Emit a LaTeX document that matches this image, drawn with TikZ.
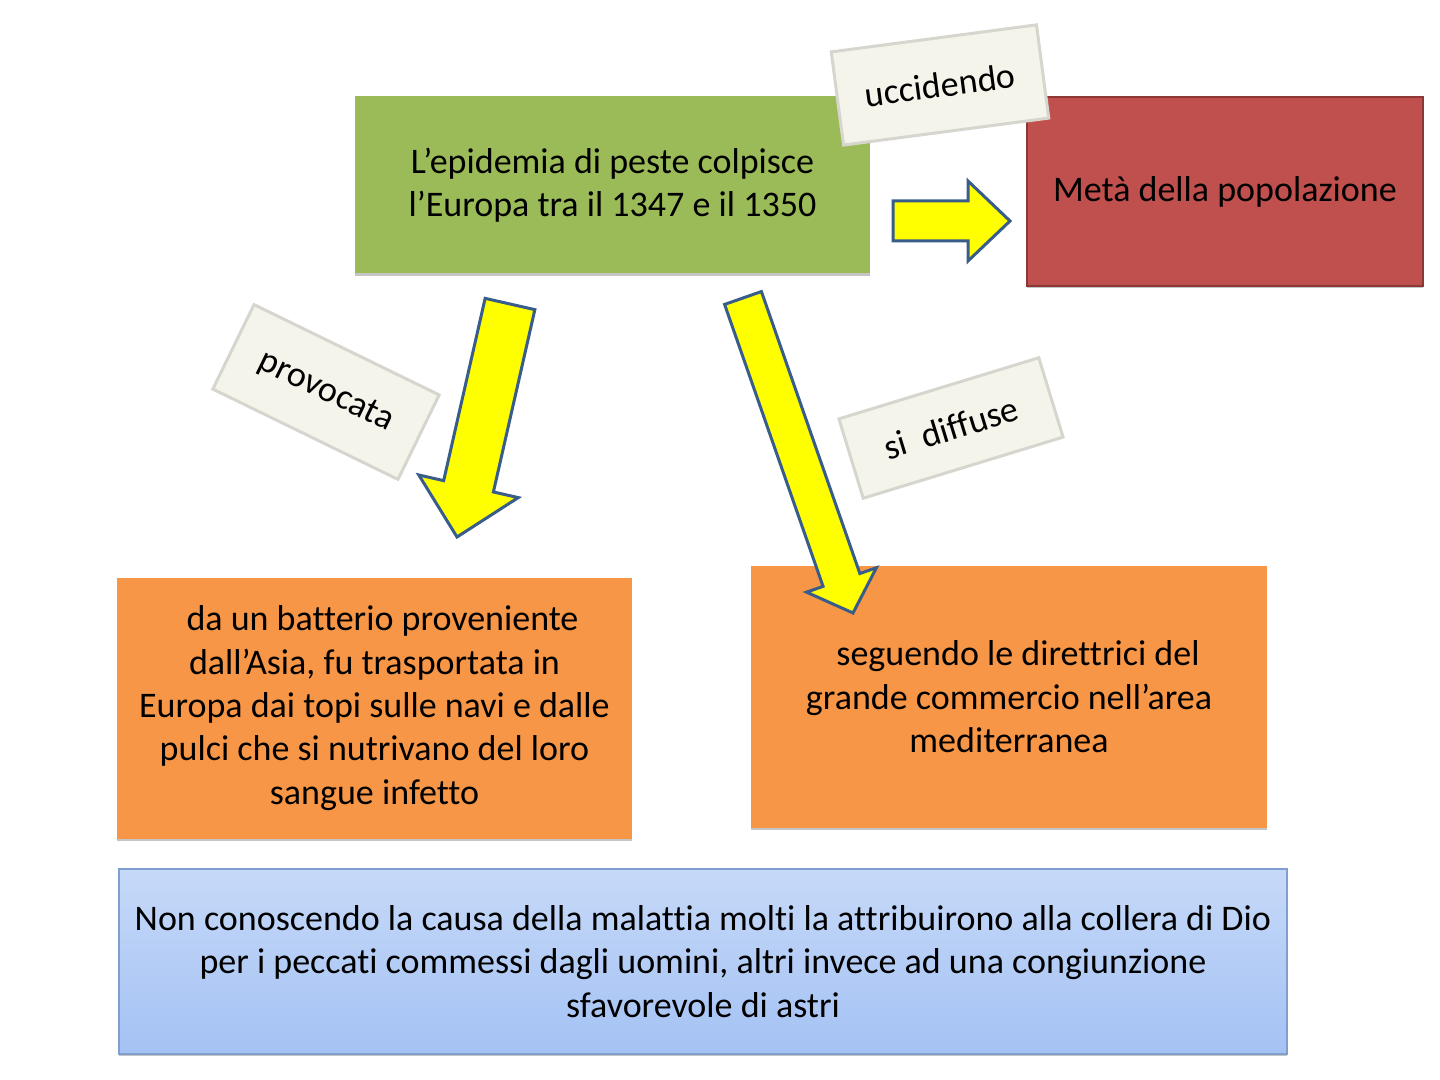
\documentclass[tikz,border=0pt]{standalone}
\usepackage{fontspec}
\setmainfont{Carlito}[Ligatures=NoCommon]
\usetikzlibrary{calc,shadows}
\definecolor{greenbox}{HTML}{9BBB59}
\definecolor{redbox}{HTML}{C0504D}
\definecolor{redline}{HTML}{8C3836}
\definecolor{orangebox}{HTML}{F79646}
\definecolor{bluetop}{RGB}{198,217,248}
\definecolor{bluebot}{RGB}{164,194,244}
\definecolor{blueline}{RGB}{128,158,206}
\definecolor{cream}{HTML}{F5F4EA}
\definecolor{creamline}{HTML}{D6D6CE}
\definecolor{arrowline}{HTML}{385D8A}
\definecolor{arrowfill}{HTML}{FFFF00}
\tikzset{
  box/.style={rectangle, inner sep=0pt, align=center, font=\fontsize{18}{21.7}\selectfont,
    drop shadow={shadow xshift=0pt, shadow yshift=-1.2pt, fill=black!45, opacity=0.5}},
  lbl/.style={rectangle, inner sep=0pt, draw=creamline, line width=1.5pt, fill=cream,
    font=\fontsize{18}{21.7}\selectfont},
  blockarrow/.style={draw=arrowline, fill=arrowfill, line width=1.5pt, line join=miter}
}
\begin{document}
\begin{tikzpicture}[x=0.5pt,y=0.5pt]
\useasboundingbox (0,0) rectangle (1440,-1080);
% boxes
\node[box, fill=greenbox, minimum width=257.5pt, minimum height=88.5pt] (green) at (612.5,-185)
  {L’epidemia di peste colpisce\\l’Europa tra il 1347 e il 1350};
\node[box, fill=redbox, draw=redline, line width=1pt, minimum width=198pt, minimum height=94.5pt] (red) at (1225,-191.5)
  {Metà della popolazione};
\node[box, fill=orangebox, minimum width=257.5pt, minimum height=130.5pt] (left) at (374.5,-708)
  {\hspace*{8pt}da un batterio proveniente\\dall’Asia, fu trasportata in\\Europa dai topi sulle navi e dalle\\pulci che si nutrivano del loro\\sangue infetto};
\node[box, fill=orangebox, minimum width=258pt, minimum height=131pt] (right) at (1009,-697)
  {\hspace*{9pt}seguendo le direttrici del\\grande commercio nell’area\\mediterranea};
\node[box, top color=bluetop, bottom color=bluebot, draw=blueline, line width=1pt,
  minimum width=584pt, minimum height=92.5pt] (blue) at (703,-961.5)
  {Non conoscendo la causa della malattia molti la attribuirono alla collera di Dio\\per i peccati commessi dagli uomini, altri invece ad una congiunzione\\sfavorevole di astri};
% arrows
\coordinate (a1t) at (893,-221);
\coordinate (a1h) at (1010,-221);
\coordinate (a1b) at ($(a1h)!21pt!(a1t)$);
\draw[blockarrow] ($(a1t)!10pt!90:(a1h)$) -- ($(a1b)!10pt!90:(a1h)$) -- ($(a1b)!20pt!90:(a1h)$)
  -- (a1h) -- ($(a1b)!20pt!-90:(a1h)$) -- ($(a1b)!10pt!-90:(a1h)$) -- ($(a1t)!10pt!-90:(a1h)$) -- cycle;
\coordinate (a2t) at (510,-304);
\coordinate (a2h) at (457,-537);
\coordinate (a2b) at ($(a2h)!26pt!(a2t)$);
\draw[blockarrow] ($(a2t)!12.75pt!90:(a2h)$) -- ($(a2b)!12.75pt!90:(a2h)$) -- ($(a2b)!25.5pt!90:(a2h)$)
  -- (a2h) -- ($(a2b)!25.5pt!-90:(a2h)$) -- ($(a2b)!12.75pt!-90:(a2h)$) -- ($(a2t)!12.75pt!-90:(a2h)$) -- cycle;
\coordinate (a3t) at (743,-298);
\coordinate (a3h) at (853,-613);
\coordinate (a3b) at ($(a3h)!17.5pt!(a3t)$);
\draw[blockarrow] ($(a3t)!9.75pt!90:(a3h)$) -- ($(a3b)!9.75pt!90:(a3h)$) -- ($(a3b)!18.5pt!90:(a3h)$)
  -- (a3h) -- ($(a3b)!18.5pt!-90:(a3h)$) -- ($(a3b)!9.75pt!-90:(a3h)$) -- ($(a3t)!9.75pt!-90:(a3h)$) -- cycle;
% labels
\node[lbl, minimum width=103.5pt, minimum height=47pt, rotate=7.5] (uccid) at (940,-85) {uccidendo};
\node[lbl, minimum width=103pt, minimum height=47pt, rotate=-26] (provoc) at (326,-392) {provocata};
\node[lbl, minimum width=104.5pt, minimum height=41.5pt, rotate=17] (diff) at (951,-428) {si~~diffuse};
\end{tikzpicture}
\end{document}
